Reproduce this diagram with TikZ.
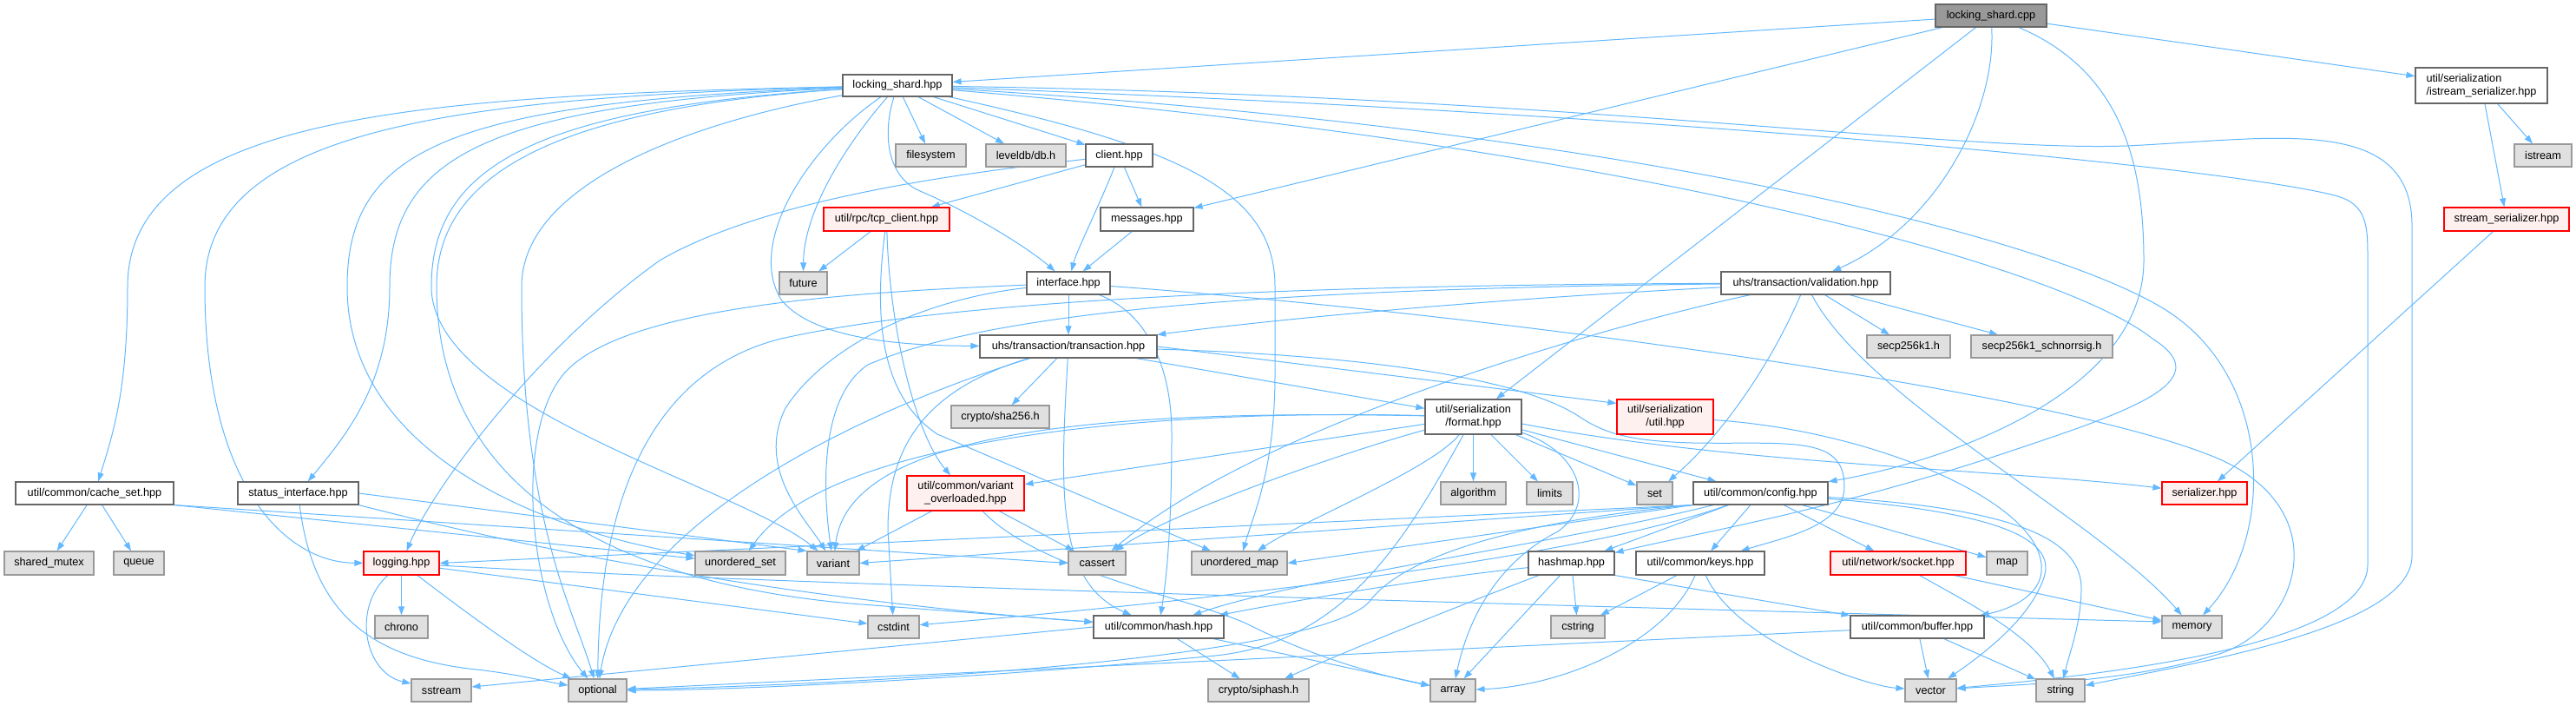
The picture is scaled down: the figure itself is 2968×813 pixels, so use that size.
\documentclass[tikz,border=0pt]{standalone}
\usepackage{fontspec}
\setmainfont{Liberation Sans}
\usetikzlibrary{arrows.meta}
\definecolor{ec}{HTML}{63B8FF}
\definecolor{bd}{HTML}{666666}
\definecolor{xbd}{HTML}{999999}
\definecolor{xfill}{HTML}{E0E0E0}
\definecolor{rfill}{HTML}{FFF0F0}
\definecolor{rbd}{HTML}{FF0000}
\definecolor{rootfill}{HTML}{999999}
\pgfdeclarelayer{bg}
\pgfsetlayers{bg,main}
\newcommand{\mknode}[7]{\node[#1, minimum width=#5pt, minimum height=#6pt] (#2) at (#3,#4) {#7};}
\tikzset{
  box/.style={draw=bd, fill=white, line width=1.1pt, inner sep=0pt, align=center, font=\fontsize{12.7}{15}\selectfont},
  extbox/.style={box, draw=xbd, fill=xfill},
  trbox/.style={box, draw=rbd, fill=rfill},
  rootbox/.style={box, draw=bd, fill=rootfill},
  ln/.style={draw=ec, line width=1pt, -{Triangle[length=10pt,width=7pt]}}
}
\begin{document}
\begin{tikzpicture}[x=1pt,y=-1pt]
\useasboundingbox (0,0) rectangle (2968,813);
% nodes
\mknode{rootbox}{cpp}{2294}{18}{128}{26}{locking\_shard.cpp}
\mknode{box}{lshpp}{1034}{98.5}{126}{25}{locking\_shard.hpp}
\node[box, minimum width=152pt, minimum height=41pt, align=left] (isser) at (2859,98.5) {util/serialization\\/istream\_serializer.hpp};
\mknode{extbox}{istream}{2930}{179}{66}{26}{istream}
\mknode{trbox}{stser}{2888}{252.5}{144}{27}{stream\_serializer.hpp}
\mknode{box}{valid}{2080.5}{326}{195}{26}{uhs/transaction/validation.hpp}
\mknode{extbox}{secp}{2199}{399}{96}{26}{secp256k1.h}
\mknode{extbox}{schnorr}{2352.5}{399}{163}{26}{secp256k1\_schnorrsig.h}
\mknode{extbox}{filesystem}{1072.5}{179}{81}{26}{filesystem}
\mknode{extbox}{leveldb}{1182}{179}{92}{26}{leveldb/db.h}
\mknode{box}{client}{1289.5}{179}{77}{26}{client.hpp}
\mknode{trbox}{tcp}{1021.5}{252.5}{145}{27}{util/rpc/tcp\_client.hpp}
\mknode{box}{messages}{1321.5}{252.5}{107}{27}{messages.hpp}
\mknode{extbox}{future}{925.5}{326}{55}{26}{future}
\mknode{box}{interface}{1231}{326}{96}{26}{interface.hpp}
\mknode{box}{trans}{1231}{399}{204}{26}{uhs/transaction/transaction.hpp}
\mknode{extbox}{sha}{1152.5}{480}{113}{26}{crypto/sha256.h}
\mknode{box}{format}{1697.5}{480}{111}{40}{util/serialization\\/format.hpp}
\mknode{trbox}{sutil}{1918.5}{480}{111}{40}{util/serialization\\/util.hpp}
\mknode{trbox}{varov}{1112.5}{568}{135}{40}{util/common/variant\\\_overloaded.hpp}
\mknode{box}{cacheset}{109}{568}{182}{26}{util/common/cache\_set.hpp}
\mknode{box}{status}{343.5}{568}{139}{26}{status\_interface.hpp}
\mknode{extbox}{algorithm}{1697.5}{568}{75}{26}{algorithm}
\mknode{extbox}{limits}{1785.5}{568}{53}{26}{limits}
\mknode{extbox}{set}{1906.5}{568}{41}{26}{set}
\mknode{box}{config}{2028.5}{568}{155}{26}{util/common/config.hpp}
\mknode{trbox}{serializer}{2540}{568}{98}{26}{serializer.hpp}
\mknode{extbox}{sharedmutex}{56.5}{648.5}{103}{27}{shared\_mutex}
\mknode{extbox}{queue}{160}{648.5}{58}{27}{queue}
\mknode{trbox}{logging}{462.5}{648.5}{87}{27}{logging.hpp}
\mknode{extbox}{uset}{853}{648.5}{104}{27}{unordered\_set}
\mknode{extbox}{variant}{960}{648.5}{60}{27}{variant}
\mknode{extbox}{cassert}{1264}{648.5}{66}{27}{cassert}
\mknode{extbox}{umap}{1428}{648.5}{110}{27}{unordered\_map}
\mknode{box}{hashmap}{1810.5}{648.5}{99}{27}{hashmap.hpp}
\mknode{box}{keys}{1959}{648.5}{148}{27}{util/common/keys.hpp}
\mknode{trbox}{socket}{2187}{648.5}{156}{27}{util/network/socket.hpp}
\mknode{extbox}{map}{2312.5}{648.5}{47}{27}{map}
\mknode{extbox}{chrono}{462.5}{722}{61}{26}{chrono}
\mknode{extbox}{cstdint}{1029.5}{722}{59}{26}{cstdint}
\mknode{box}{hash}{1335}{722}{150}{26}{util/common/hash.hpp}
\mknode{extbox}{cstring}{1818}{722}{62}{26}{cstring}
\mknode{box}{buffer}{2209}{722}{154}{26}{util/common/buffer.hpp}
\mknode{extbox}{memory}{2525.5}{722}{69}{26}{memory}
\mknode{extbox}{sstream}{508.5}{795}{69}{26}{sstream}
\mknode{extbox}{optional}{688.5}{795}{67}{26}{optional}
\mknode{extbox}{siphash}{1450}{795}{116}{26}{crypto/siphash.h}
\mknode{extbox}{array}{1674}{795}{52}{26}{array}
\mknode{extbox}{vector}{2224.5}{795}{59}{26}{vector}
\mknode{extbox}{string}{2374}{795}{56}{26}{string}

\begin{pgfonlayer}{bg}
% cpp
\draw[ln] (cpp) -- (lshpp);
\draw[ln] (cpp) -- (messages);
\draw[ln] (cpp) -- (format);
\draw[ln] (cpp) .. controls (2300,130) and (2230,260) .. (valid);
\draw[ln] (cpp) .. controls (2440,80) and (2470,180) .. (2470,300) .. controls (2470,450) and (2250,530) .. (config);
\draw[ln] (cpp) -- (isser);
\draw[ln] (isser) -- (istream);
\draw[ln] (isser) -- (stser);
\draw[ln] (stser) -- (serializer);
% locking_shard.hpp
\draw[ln] (lshpp) .. controls (500,110) and (147,130) .. (147,330) .. controls (147,450) and (130,500) .. (cacheset);
\draw[ln] (lshpp) .. controls (520,112) and (236,150) .. (236,330) .. controls (236,560) and (330,648) .. (logging);
\draw[ln] (lshpp) .. controls (520,118) and (400,170) .. (400,330) .. controls (400,520) and (620,610) .. (uset);
\draw[ln] (lshpp) .. controls (560,120) and (449,180) .. (449,330) .. controls (449,440) and (400,500) .. (status);
\draw[ln] (lshpp) .. controls (620,125) and (497,190) .. (497,330) .. controls (497,470) and (850,560) .. (variant);
\draw[ln] (lshpp) .. controls (640,125) and (503,200) .. (503,330) .. controls (503,560) and (700,670) .. (980,695) -- (hash);
\draw[ln] (lshpp) .. controls (800,140) and (601,210) .. (601,330) .. controls (601,600) and (660,700) .. (optional);
\draw[ln] (lshpp) .. controls (930,170) and (860,280) .. (900,345) .. controls (940,395) and (1060,398) .. (trans);
\draw[ln] (lshpp) .. controls (980,160) and (926,240) .. (future);
\draw[ln] (lshpp) .. controls (1015,160) and (1025,205) .. (1060,220) .. controls (1130,250) and (1190,290) .. (interface);
\draw[ln] (lshpp) -- (filesystem);
\draw[ln] (lshpp) -- (leveldb);
\draw[ln] (lshpp) -- (client);
\draw[ln] (lshpp) .. controls (1360,170) and (1469,220) .. (1469,330) -- (1469,430) .. controls (1469,540) and (1445,590) .. (umap);
\draw[ln] (lshpp) .. controls (1800,110) and (2250,175) .. (2450,168) .. controls (2620,160) and (2779,130) .. (2779,260) -- (2779,640) .. controls (2779,720) and (2550,760) .. (string);
\draw[ln] (lshpp) .. controls (1900,130) and (2550,190) .. (2690,225) .. controls (2728,235) and (2728,260) .. (2728,300) -- (2728,650) .. controls (2728,740) and (2450,775) .. (vector);
\draw[ln] (lshpp) .. controls (1900,150) and (2380,280) .. (2500,360) .. controls (2620,440) and (2620,620) .. (memory);
\draw[ln] (lshpp) .. controls (1900,170) and (2380,310) .. (2480,390) .. controls (2560,440) and (2450,475) .. (2300,525) .. controls (2100,590) and (1950,615) .. (hashmap);
% client
\draw[ln] (client) -- (messages);
\draw[ln] (client) .. controls (1265,240) and (1240,290) .. (interface);
\draw[ln] (client) -- (tcp);
\draw[ln] (client) .. controls (1100,200) and (880,230) .. (760,300) .. controls (620,400) and (500,560) .. (logging);
% tcp
\draw[ln] (tcp) -- (future);
\draw[ln] (tcp) .. controls (1025,380) and (1055,500) .. (varov);
\draw[ln] (tcp) .. controls (1005,380) and (1020,460) .. (1080,500) -- (umap);
\draw[ln] (messages) -- (interface);
% interface
\draw[ln] (interface) -- (trans);
\draw[ln] (interface) .. controls (1320,360) and (1350,420) .. (1350,500) .. controls (1350,600) and (1345,660) .. (hash);
\draw[ln] (interface) .. controls (1000,336) and (720,350) .. (650,430) .. controls (590,500) and (610,700) .. (optional);
\draw[ln] (interface) .. controls (1060,345) and (950,400) .. (905,470) .. controls (870,540) and (930,600) .. (variant);
\draw[ln] (interface) .. controls (1700,360) and (2380,450) .. (2560,530) .. controls (2690,590) and (2650,720) .. (2560,752) .. controls (2460,785) and (2330,788) .. (vector);
% transaction
\draw[ln] (trans) -- (format);
\draw[ln] (trans.east) -- ([yshift=-5pt]sutil.north west);
\draw[ln] (trans) -- (sha);
\draw[ln] (trans) .. controls (1222,560) and (1215,670) .. (hash);
\draw[ln] (trans) .. controls (1000,470) and (720,600) .. (optional);
\draw[ln] (trans) .. controls (1060,450) and (1023,520) .. (1023,610) -- (cstdint);
\draw[ln] (trans) .. controls (1600,410) and (1760,440) .. (1820,480) .. controls (1850,500) and (1880,508) .. (1950,510) .. controls (2060,512) and (2125,500) .. (2125,560) .. controls (2125,605) and (2060,618) .. (keys);
% validation
\draw[ln] (valid) .. controls (1700,345) and (1450,370) .. (trans);
\draw[ln] (valid) .. controls (1500,328) and (1100,345) .. (900,390) .. controls (700,440) and (690,680) .. (optional);
\draw[ln] (valid) .. controls (1500,332) and (1150,355) .. (1000,420) .. controls (940,460) and (950,580) .. (variant);
\draw[ln] (valid) .. controls (1850,375) and (1450,490) .. (cassert);
\draw[ln] (valid) .. controls (2040,420) and (1985,500) .. (set);
\draw[ln] (valid) .. controls (2150,460) and (2420,600) .. (memory);
\draw[ln] (valid) -- (secp);
\draw[ln] (valid) -- (schnorr);
% format
\draw[ln] (format) -- (config);
\draw[ln] (format) -- (varov);
\draw[ln] (format) .. controls (1550,520) and (1350,590) .. (cassert);
\draw[ln] (format) .. controls (1650,540) and (1500,600) .. (umap);
\draw[ln] (format) .. controls (1300,470) and (950,510) .. (uset);
\draw[ln] (format) .. controls (1300,472) and (980,490) .. (variant);
\draw[ln] (format) .. controls (1620,620) and (1550,740) .. (1400,755) .. controls (1150,780) and (850,795) .. (optional);
\draw[ln] (format) -- (algorithm);
\draw[ln] (format) -- (limits);
\draw[ln] (format) -- (set);
\draw[ln] (format) .. controls (1820,520) and (1840,580) .. (1795,612) .. controls (1720,650) and (1690,720) .. (array);
\draw[ln] ([yshift=-8pt]format.east) .. controls (2000,535) and (2300,540) .. (serializer);
% serialization util
\draw[ln] (sutil) .. controls (2150,495) and (2330,570) .. (2350,640) .. controls (2365,690) and (2300,705) .. (buffer);
% variant_overloaded
\draw[ln] (varov) -- (variant);
\draw[ln] (varov) -- (cassert);
\draw[ln] (varov) .. controls (1200,660) and (1380,690) .. (1440,720) .. controls (1520,760) and (1600,780) .. (array);
% cache_set
\draw[ln] (cacheset) -- (sharedmutex);
\draw[ln] (cacheset) -- (queue);
\draw[ln] (cacheset.south east) -- (uset);
\draw[ln] (cacheset.south east) -- (cassert.west);
% status
\draw[ln] (status.east) -- (variant.north west);
\draw[ln] (status.south east) .. controls (600,630) and (900,690) .. (hash);
\draw[ln] (status) .. controls (360,700) and (420,755) .. (540,770) .. controls (590,775) and (630,785) .. (optional);
% logging
\draw[ln] (logging) -- (chrono);
\draw[ln] (logging) .. controls (405,700) and (420,775) .. (sstream);
\draw[ln] (logging) .. controls (530,700) and (610,760) .. (optional);
\draw[ln] (logging) -- (cstdint);
\draw[ln] (logging) .. controls (800,668) and (1500,690) .. ([yshift=6pt]memory.west);
% hash
\draw[ln] (hash) -- (siphash);
\draw[ln] (hash) -- (array);
\draw[ln] (hash.west) -- ([yshift=4pt]sstream.east);
% hashmap
\draw[ln] (hashmap) .. controls (1650,665) and (1500,690) .. (hash);
\draw[ln] (hashmap) .. controls (1700,690) and (1550,750) .. (siphash);
\draw[ln] (hashmap) -- (array);
\draw[ln] (hashmap) -- (cstring);
\draw[ln] (hashmap.south east) -- (buffer);
% keys
\draw[ln] (keys) -- (cstring);
\draw[ln] (keys) .. controls (1920,740) and (1800,790) .. (array);
\draw[ln] (keys) .. controls (2000,740) and (2150,790) .. (vector);
% config
\draw[ln] (config) -- (hashmap);
\draw[ln] (config) -- (keys);
\draw[ln] (config) -- (socket);
\draw[ln] (config) -- (map);
\draw[ln] (config.south west) -- (logging.east);
\draw[ln] (config.south west) -- (variant.east);
\draw[ln] (config.south west) -- (umap.east);
\draw[ln] (config) .. controls (1800,650) and (1300,700) .. (cstdint);
\draw[ln] (config) .. controls (1800,625) and (1500,665) .. (hash);
\draw[ln] (config.south west) .. controls (1750,600) and (1620,640) .. (1580,690) .. controls (1540,750) and (1100,785) .. (optional);
\draw[ln] (config) .. controls (2300,590) and (2370,620) .. (2355,665) .. controls (2340,710) and (2290,750) .. (vector);
\draw[ln] (config) .. controls (2320,585) and (2400,620) .. (2398,680) .. controls (2397,720) and (2385,750) .. (string);
% socket
\draw[ln] (socket) -- (memory);
\draw[ln] (socket) .. controls (2260,690) and (2340,730) .. (string);
% buffer
\draw[ln] (buffer) -- (vector);
\draw[ln] (buffer) -- (string);
\draw[ln] (buffer) -- (optional);
\end{pgfonlayer}
\end{tikzpicture}
\end{document}
